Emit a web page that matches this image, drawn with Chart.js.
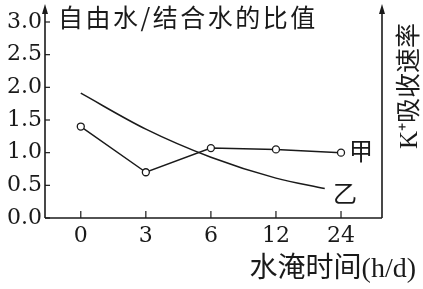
<!DOCTYPE html>
<html>
<head>
<meta charset="utf-8">
<script src="https://cdn.jsdelivr.net/npm/chart.js@4.4.1/dist/chart.umd.min.js"></script>
<style>
  html, body { margin: 0; padding: 0; background: #fff; }
  #wrap { width: 423px; height: 289px; }
</style>
</head>
<body>
<div id="wrap"><canvas id="chart"></canvas></div>
<script>
// Data
var xLabels = ["0", "3", "6", "12", "24"];
var yTicks = [0, 0.5, 1.0, 1.5, 2.0, 2.5, 3.0];
var jiaValues = [1.4, 0.7, 1.07, 1.05, 1.0];          // 甲 (折线, 圆点)
var yiPositions = [0, 1, 2, 3, 3.75];                 // 乙 曲线所在的类别位置
var yiValues = [1.91, 1.36, 0.93, 0.61, 0.45];        // 乙 (平滑曲线)

var INK = "#1a1a1a";
var CJK = '"Noto Sans CJK SC"';
var SERIF = '"Liberation Serif", ' + CJK;

// Axes, arrows, inner ticks and labels
var decorations = {
    id: "decorations",
    afterDraw: function (chart) {
        var ctx = chart.ctx;
        var a = chart.chartArea;
        var xs = chart.scales.x;
        var ys = chart.scales.y;
        var tipY = a.top - 18;

        ctx.save();
        ctx.strokeStyle = INK;
        ctx.fillStyle = INK;
        ctx.lineWidth = 1.6;

        function arrow(x) {
            ctx.beginPath();
            ctx.moveTo(x, a.bottom);
            ctx.lineTo(x, tipY + 6);
            ctx.stroke();
            ctx.beginPath();
            ctx.moveTo(x, tipY);
            ctx.lineTo(x - 3, tipY + 10);
            ctx.lineTo(x + 3, tipY + 10);
            ctx.closePath();
            ctx.fill();
        }
        arrow(a.left);
        arrow(a.right);

        // x axis
        ctx.beginPath();
        ctx.moveTo(a.left, a.bottom);
        ctx.lineTo(a.right, a.bottom);
        ctx.stroke();

        // ticks pointing inside
        ctx.lineWidth = 1.2;
        yTicks.forEach(function (v) {
            var py = ys.getPixelForValue(v);
            ctx.beginPath();
            ctx.moveTo(a.left, py);
            ctx.lineTo(a.left + 5, py);
            ctx.stroke();
        });
        xLabels.forEach(function (l, i) {
            var px = xs.getPixelForValue(i);
            ctx.beginPath();
            ctx.moveTo(px, a.bottom);
            ctx.lineTo(px, a.bottom - 7);
            ctx.stroke();
        });

        // texts
        ctx.textBaseline = "middle";
        ctx.font = "25px " + CJK;
        ctx.letterSpacing = "2.5px";
        ctx.textAlign = "left";
        ctx.fillText("自由水/结合水的比值", a.left + 13, 17);
        ctx.letterSpacing = "0px";

        ctx.textAlign = "center";
        ctx.font = "24px " + CJK;
        ctx.fillText("甲", 361, ys.getPixelForValue(jiaValues[4]) - 2);
        ctx.fillText("乙", 345, ys.getPixelForValue(yiValues[4]) + 4);

        ctx.textAlign = "right";
        ctx.font = "28px " + SERIF;
        ctx.fillText("水淹时间(h/d)", 416, 270);

        ctx.save();
        ctx.translate(410, 86);
        ctx.rotate(-Math.PI / 2);
        ctx.textAlign = "center";
        ctx.font = "25px " + SERIF;
        ctx.fillText("K⁺吸收速率", 0, 0);
        ctx.restore();

        ctx.restore();
    }
};

var ctx1 = document.getElementById("chart").getContext("2d");
var myChart = new Chart(ctx1, {
    type: "line",
    data: {
        datasets: [
            {
                label: "甲",
                data: jiaValues.map(function (v, i) { return {x: i, y: v}; }),
                borderColor: INK,
                borderWidth: 1.5,
                pointRadius: 3.5,
                pointBackgroundColor: "#fff",
                pointBorderColor: INK,
                pointBorderWidth: 1.3,
                tension: 0
            },
            {
                label: "乙",
                data: yiValues.map(function (v, i) { return {x: yiPositions[i], y: v}; }),
                borderColor: INK,
                borderWidth: 1.5,
                pointRadius: 0,
                cubicInterpolationMode: "monotone"
            }
        ]
    },
    options: {
        responsive: true,
        maintainAspectRatio: false,
        animation: false,
        layout: {padding: {top: 22, right: 41, left: 0, bottom: 0}},
        plugins: {
            legend: {display: false},
            tooltip: {enabled: false}
        },
        scales: {
            x: {
                type: "linear",
                min: -0.55,
                max: 4.63,
                afterBuildTicks: function (s) {
                    s.ticks = xLabels.map(function (l, i) { return {value: i}; });
                },
                afterFit: function (s) { s.height = 71; },
                grid: {display: false, drawTicks: false},
                border: {display: false},
                ticks: {
                    callback: function (v) { return xLabels[v]; },
                    color: INK,
                    padding: 5,
                    maxRotation: 0,
                    font: {family: "DejaVu Serif", size: 22}
                }
            },
            y: {
                min: 0,
                max: 3.0,
                afterBuildTicks: function (s) {
                    s.ticks = yTicks.map(function (v) { return {value: v}; });
                },
                afterFit: function (s) { s.width = 45; },
                grid: {display: false, drawTicks: false},
                border: {display: false},
                ticks: {
                    callback: function (v) { return v.toFixed(1); },
                    color: INK,
                    padding: 3,
                    font: {family: "DejaVu Serif", size: 22}
                }
            }
        }
    },
    plugins: [decorations]
});
</script>
</body>
</html>
